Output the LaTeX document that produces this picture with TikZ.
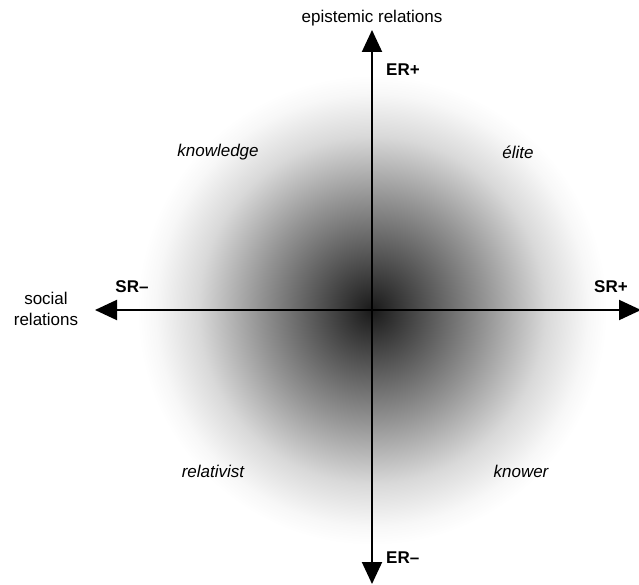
\documentclass[tikz,border=0pt]{standalone}
\usepackage{fontspec}
\setmainfont{Liberation Sans}
\usetikzlibrary{arrows.meta}
\pgfdeclareradialshading{glow}{\pgfpointorigin}{%
  color(0bp)=(black!90);
  color(2bp)=(black!82);
  color(5.5bp)=(black!68);
  color(12bp)=(black!42);
  color(18.5bp)=(black!15);
  color(23bp)=(black!3);
  color(25bp)=(white);
  color(50bp)=(white)}
\tikzset{
  axis/.style={line width=2pt, -{Triangle[length=22pt,width=20pt]}},
  lab/.style={font=\fontsize{17}{21}\selectfont, inner sep=0pt},
  pole/.style={font=\fontsize{17}{21}\selectfont\bfseries, inner sep=0pt},
  quad/.style={font=\fontsize{17}{21}\selectfont\itshape, inner sep=0pt}
}
\begin{document}
\begin{tikzpicture}[x=1pt,y=-1pt]
\useasboundingbox (0,0) rectangle (639,585);
\coordinate (c) at (372,310);
\shade[shading=glow] (c) circle (235);
\coordinate (top) at (372,30);
\coordinate (bot) at (372,584);
\coordinate (lft) at (95,310);
\coordinate (rgt) at (641,310);
\draw[axis] (c) -- (top);
\draw[axis] (c) -- (bot);
\draw[axis] (c) -- (lft);
\draw[axis] (c) -- (rgt);
\node[lab] (er) at (372,18) {epistemic relations};
\node[lab, align=center] (sr) at (46,309) {social\\relations};
\node[pole, anchor=west] (erp) at (386,70) {ER+};
\node[pole, anchor=west] (erm) at (386,558) {ER–};
\node[pole] (srm) at (132,287) {SR–};
\node[pole] (srp) at (611,287) {SR+};
\node[quad] (kn) at (218,152) {knowledge};
\node[quad] (el) at (518,152) {élite};
\node[quad] (re) at (213,471) {relativist};
\node[quad] (kw) at (521,471) {knower};
\end{tikzpicture}
\end{document}
